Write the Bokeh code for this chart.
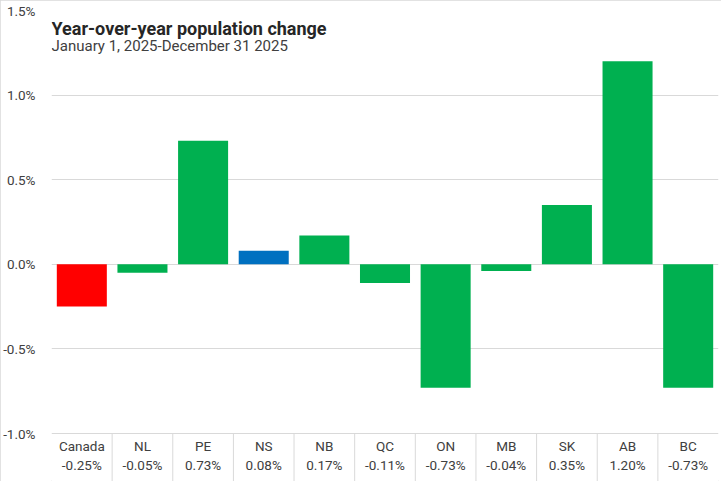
from bokeh.plotting import figure
from bokeh.models import Range1d, FactorRange, FixedTicker, PrintfTickFormatter, Label, ColumnDataSource
from bokeh.transform import dodge
from bokeh.core.properties import value
from bokeh.embed import file_html
from bokeh.resources import INLINE

# ---- data ----
categories = ["Canada", "NL", "PE", "NS", "NB", "QC", "ON", "MB", "SK", "AB", "BC"]
changes = [-0.25, -0.05, 0.73, 0.08, 0.17, -0.11, -0.73, -0.04, 0.35, 1.20, -0.73]
y_ticks = [-1.0, -0.5, 0.0, 0.5, 1.0, 1.5]
title_text = "Year-over-year population change"
subtitle_text = "January 1, 2025-December 31 2025"

# ---- styles ----
GREEN, RED, BLUE = "#00B050", "#FF0000", "#0070C0"
special = {"Canada": RED, "NS": BLUE}
colors = [special.get(c, GREEN) for c in categories]
FONT = "Roboto"
TXT = "#404040"
GRID = "#D9D9D9"

W, H = 721, 481
LB, RB, TB, BB = 50, 3, 10, 0
Y_TOP = 1.5
PX_PER_UNIT = 423 / 2.5
Y_BOT = Y_TOP - (H - TB - BB) / PX_PER_UNIT

def px_to_y(py):
    """figure pixel row -> data y"""
    return Y_TOP - (py - TB) / PX_PER_UNIT

p = figure(width=W, height=H,
           x_range=FactorRange(*categories, range_padding=0),
           y_range=Range1d(Y_BOT, Y_TOP),
           output_backend="svg", toolbar_location=None,
           min_border_left=LB, min_border_right=RB,
           min_border_top=TB, min_border_bottom=BB)
p.outline_line_color = None
p.background_fill_color = "white"
p.border_fill_color = "white"
p.styles = {"outline": "1px solid #D9D9D9", "outline-offset": "-1px"}

p.xaxis.visible = False
p.xgrid.visible = False

ax = p.yaxis[0]
ax.ticker = FixedTicker(ticks=y_ticks)
ax.formatter = PrintfTickFormatter(format="%.1f%%")
ax.axis_line_color = None
ax.major_tick_line_color = None
ax.minor_tick_line_color = None
ax.major_label_text_font = FONT
ax.major_label_text_font_size = "13.5px"
ax.major_label_text_color = TXT
ax.major_label_standoff = 10
p.ygrid.grid_line_color = GRID
p.ygrid.grid_line_width = 1

src = ColumnDataSource(dict(cat=categories, val=changes, color=colors,
                            lab=["{:.2f}%".format(v) for v in changes]))

p.vbar(x="cat", top="val", bottom=0, width=0.825, fill_color="color",
       line_color=None, source=src)

# data table separators
sep_src = ColumnDataSource(dict(cat=categories[:-1]))
p.segment(x0=dodge("cat", 0.5, range=p.x_range), x1=dodge("cat", 0.5, range=p.x_range),
          y0=y_ticks[0], y1=Y_BOT, line_color=GRID, line_width=1, source=sep_src)

p.text(x="cat", y=px_to_y(445), text="cat", text_align="center", text_baseline="middle",
       text_font=value(FONT), text_font_size="13.5px", text_color=TXT, source=src)
p.text(x="cat", y=px_to_y(464), text="lab", text_align="center", text_baseline="middle",
       text_font=value(FONT), text_font_size="13.5px", text_color=TXT, source=src)

p.add_layout(Label(x=0, y=Y_TOP, x_offset=0, y_offset=-18, text=title_text,
                   text_font=FONT, text_font_size="18px", text_font_style="bold",
                   text_color="#262626", text_baseline="alphabetic"))
p.add_layout(Label(x=0, y=Y_TOP, x_offset=0, y_offset=-35, text=subtitle_text,
                   text_font=FONT, text_font_size="15px",
                   text_color=TXT, text_baseline="alphabetic"))

open("out.html", "w").write(file_html(p, INLINE))
